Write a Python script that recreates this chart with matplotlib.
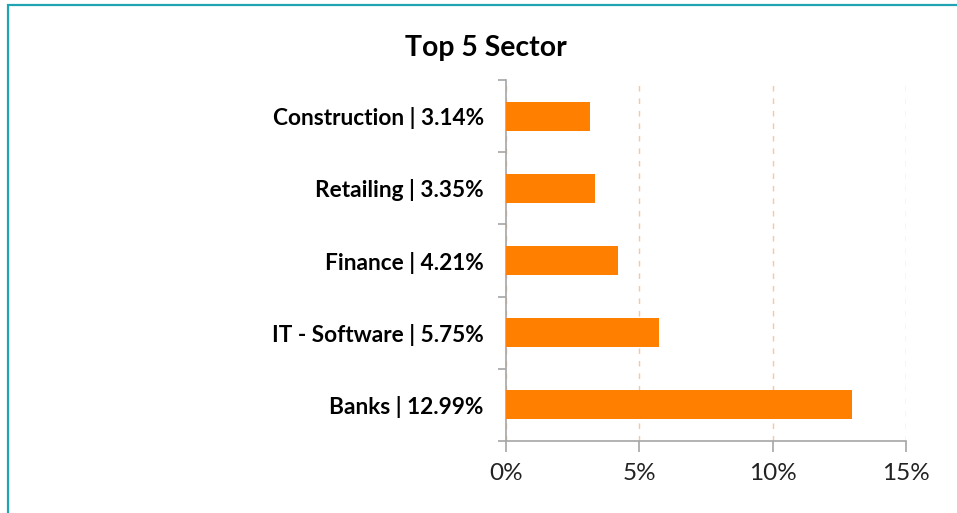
import matplotlib.pyplot as plt
from matplotlib.patches import Rectangle
from matplotlib.ticker import FuncFormatter

# Sector weights (percent), bottom to top
sectors = ['Banks', 'IT - Software', 'Finance', 'Retailing', 'Construction']
weights = [12.99, 5.75, 4.21, 3.35, 3.14]
xticks = [0, 5, 10, 15]

bar_color = '#ff8000'
axis_color = '#a6a6a6'
grid_color = '#fcc59a'
frame_color = '#20a4b4'

plt.rcParams['font.family'] = ['Lato', 'DejaVu Sans']

fig = plt.figure(figsize=(9.57, 5.13), dpi=100)
ax = fig.add_axes([0.5287, 0.1404, 0.4180, 0.7036])

pos = range(len(sectors))
ax.barh(pos, weights, height=0.4, color=bar_color, zorder=3)

ax.set_xlim(0, 15)
ax.set_ylim(-0.5, len(sectors) - 0.5)
ax.set_xticks(xticks)
ax.xaxis.set_major_formatter(FuncFormatter(lambda v, p: f'{v:.0f}%'))

# category labels sit between boundary ticks
ax.set_yticks([i - 0.5 for i in range(len(sectors) + 1)])
ax.set_yticklabels([])
ax.set_yticks(list(pos), minor=True)
ax.set_yticklabels([f'{s} | {w:.2f}%' for s, w in zip(sectors, weights)],
                   minor=True, fontsize=16.3, fontweight='bold')
ax.tick_params(axis='y', which='minor', length=0, pad=16)
ax.tick_params(axis='y', which='major', length=6, color=axis_color, width=1.2)
ax.tick_params(axis='x', length=8, color=axis_color, width=1.2,
               labelsize=17.5, pad=8, labelcolor='#222222')

ax.grid(axis='x', color=grid_color, linestyle=(0, (4, 5)), linewidth=1, zorder=0)
for side in ['top', 'right']:
    ax.spines[side].set_visible(False)
for side in ['left', 'bottom']:
    ax.spines[side].set_color(axis_color)
    ax.spines[side].set_linewidth(1.2)

fig.text(0.508, 0.906, 'Top 5 Sector', ha='center', va='center',
         fontsize=20.4, fontweight='bold')

# teal outline along the top and left edges
fig.patches.append(Rectangle((8 / 957, -0.1), 1.2, 1 - 5 / 513 + 0.1,
                             transform=fig.transFigure, fill=False,
                             edgecolor=frame_color, linewidth=1.6))

fig.savefig('out.png', dpi=100)
